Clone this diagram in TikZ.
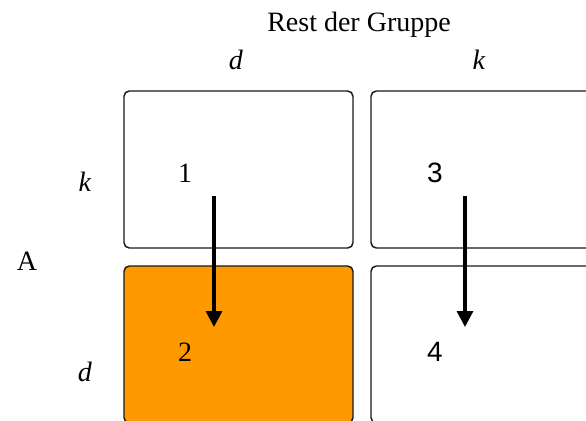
\documentclass[tikz,border=0pt]{standalone}
\usepackage{fontspec}
\setmainfont{Liberation Serif}
\newfontfamily\arialfont{Liberation Sans}
\usetikzlibrary{arrows.meta}
\definecolor{cellorange}{RGB}{255,153,0}
\tikzset{
  cell/.style={draw=black!90, line width=1.1pt, rounded corners=4pt,
    minimum width=171.75pt, minimum height=117.75pt, inner sep=0pt},
  lbl/.style={font=\fontsize{21}{25}\selectfont, inner sep=0pt},
  flow/.style={line width=2.4pt, -{Triangle[width=12pt,length=12pt]}}
}
\begin{document}
\begin{tikzpicture}[x=0.75pt,y=-0.75pt]

    \useasboundingbox (0,0) rectangle (586,421);
    \clip (0,0) rectangle (586,421);

    \node[cell] (c1) at (238.5,169.5) {};
    \node[cell] (c3) at (485.5,169.5) {};
    \node[cell, fill=cellorange] (c2) at (238.5,344.5) {};
    \node[cell] (c4) at (485.5,344.5) {};

    \node[lbl] (rest) at (359,25) {Rest der Gruppe};
    \node[lbl] (hd) at (236,60) {\textit{d}};
    \node[lbl] (hk) at (479,60) {\textit{k}};
    \node[lbl] (vk) at (85,182) {\textit{k}};
    \node[lbl] (vd) at (85,372) {\textit{d}};
    \node[lbl] (a) at (27,261) {A};

    \node[lbl] (n1) at (185,173) {1};
    \node[lbl] (n2) at (185,352) {2};
    \node[lbl, font=\arialfont\fontsize{21}{25}\selectfont] (n3) at (435,173) {3};
    \node[lbl, font=\arialfont\fontsize{21}{25}\selectfont] (n4) at (435,352) {4};

    \coordinate (s1) at (214,196);
    \coordinate (e1) at (214,327);
    \coordinate (s3) at (465,196);
    \coordinate (e3) at (465,327);

    \draw[flow] (s1) -- (e1);
    \draw[flow] (s3) -- (e3);

\end{tikzpicture}
\end{document}
